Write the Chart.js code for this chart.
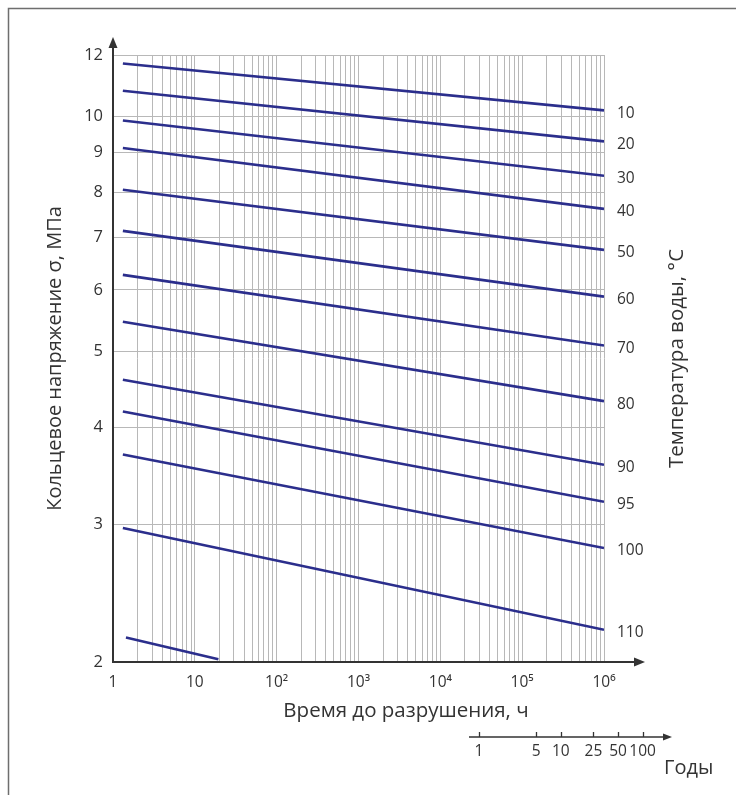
<!DOCTYPE html>
<html lang="ru">
<head>
<meta charset="utf-8">
<title>Длительная прочность</title>
<script src="https://cdn.jsdelivr.net/npm/chart.js@4.4.1/dist/chart.umd.min.js"></script>
<style>
  html, body { margin: 0; padding: 0; background: #fff; }
  #wrap { width: 736px; height: 795px; }
</style>
</head>
<body>
<div id="wrap"><canvas id="chart" width="736" height="795"></canvas></div>
<script>
// Water temperature (°C) of every line, and its two end points
const temperatures = ['10', '20', '30', '40', '50', '60', '70', '80', '90', '95', '100', '110', ''];
const startHours   = [1.32, 1.32, 1.32, 1.32, 1.32, 1.32, 1.32, 1.32, 1.32, 1.32, 1.32, 1.32, 1.44];
const endHours     = [1e6, 1e6, 1e6, 1e6, 1e6, 1e6, 1e6, 1e6, 1e6, 1e6, 1e6, 1e6, 19.4];
const startStress  = [11.70, 10.80, 9.89, 9.12, 8.06, 7.14, 6.27, 5.46, 4.60, 4.19, 3.69, 2.97, 2.15];
const endStress    = [10.19, 9.30, 8.40, 7.62, 6.75, 5.88, 5.09, 4.32, 3.58, 3.21, 2.80, 2.20, 2.016];

// Axis ticks
const stressTicks = [2, 3, 4, 5, 6, 7, 8, 9, 10, 12];
const hourTicks = [
    1, 2, 3, 4, 5, 6, 7, 8, 9,
    10, 20, 30, 40, 50, 60, 70, 80, 90,
    100, 200, 300, 400, 500, 600, 700, 800, 900,
    1000, 2000, 3000, 4000, 5000, 6000, 7000, 8000, 9000,
    1e4, 2e4, 3e4, 4e4, 5e4, 6e4, 7e4, 8e4, 9e4,
    1e5, 2e5, 3e5, 4e5, 5e5, 6e5, 7e5, 8e5, 9e5,
    1e6
];
const hourLabels = { 1: '1', 10: '10', 100: '10²', 1000: '10³', 10000: '10⁴', 100000: '10⁵', 1000000: '10⁶' };
const yearTicks = [1, 5, 10, 25, 50, 100];

const LINE_COLOR = '#2b2e8c';
const AXIS_COLOR = '#333333';
const TEXT_COLOR = '#333333';
const FONT = "'Open Sans', 'Noto Sans', sans-serif";

function arrow(ctx, x, y, dir) {
    ctx.beginPath();
    if (dir === 'up') {
        ctx.moveTo(x, y);
        ctx.lineTo(x - 4.5, y + 11);
        ctx.lineTo(x + 4.5, y + 11);
    } else {
        ctx.moveTo(x, y);
        ctx.lineTo(x - 11, y - 4.5);
        ctx.lineTo(x - 11, y + 4.5);
    }
    ctx.closePath();
    ctx.fill();
}

const framePlugin = {
    id: 'frame',
    beforeDraw(chart) {
        const ctx = chart.ctx;
        ctx.save();
        ctx.fillStyle = '#fff';
        ctx.fillRect(0, 0, chart.width, chart.height);
        ctx.strokeStyle = '#6e6e6e';
        ctx.lineWidth = 1.5;
        ctx.beginPath();
        ctx.moveTo(8.5, chart.height + 5);
        ctx.lineTo(8.5, 8.5);
        ctx.lineTo(chart.width + 5, 8.5);
        ctx.stroke();
        ctx.restore();
    }
};

const overlayPlugin = {
    id: 'overlay',
    afterDraw(chart) {
        const ctx = chart.ctx;
        const area = chart.chartArea;
        const y = chart.scales.y;
        const yrs = chart.scales.xYears;
        ctx.save();

        // axes with arrows
        ctx.strokeStyle = AXIS_COLOR;
        ctx.fillStyle = AXIS_COLOR;
        ctx.lineWidth = 2;
        ctx.beginPath();
        ctx.moveTo(area.left, area.bottom);
        ctx.lineTo(area.left, 46);
        ctx.moveTo(area.left - 1, area.bottom);
        ctx.lineTo(636, area.bottom);
        ctx.stroke();
        arrow(ctx, area.left, 37, 'up');
        arrow(ctx, 645, area.bottom, 'right');

        // temperature labels at the line ends
        ctx.fillStyle = TEXT_COLOR;
        ctx.font = '15.5px ' + FONT;
        ctx.textAlign = 'left';
        ctx.textBaseline = 'middle';
        temperatures.forEach((t, i) => {
            if (!t) return;
            ctx.fillText(t, 617, y.getPixelForValue(endStress[i]) + 3);
        });

        // axis titles
        ctx.font = '20.5px ' + FONT;
        ctx.textAlign = 'center';
        ctx.fillText('Время до разрушения, ч', 406, 711);
        ctx.save();
        ctx.translate(677, (area.top + area.bottom) / 2);
        ctx.rotate(-Math.PI / 2);
        ctx.fillText('Температура воды, °C', 0, 0);
        ctx.restore();

        // years axis
        const yy = 737;
        ctx.strokeStyle = AXIS_COLOR;
        ctx.lineWidth = 1.3;
        ctx.beginPath();
        ctx.moveTo(469, yy);
        ctx.lineTo(664, yy);
        yearTicks.forEach(v => {
            const px = Math.round(yrs.getPixelForValue(v)) + 0.5;
            ctx.moveTo(px, yy);
            ctx.lineTo(px, yy - 5);
        });
        ctx.stroke();
        ctx.fillStyle = AXIS_COLOR;
        ctx.beginPath();
        ctx.moveTo(672, yy);
        ctx.lineTo(663, yy - 3.5);
        ctx.lineTo(663, yy + 3.5);
        ctx.closePath();
        ctx.fill();

        ctx.fillStyle = TEXT_COLOR;
        ctx.font = '15.5px ' + FONT;
        ctx.textAlign = 'center';
        yearTicks.forEach(v => {
            ctx.fillText(String(v), yrs.getPixelForValue(v), 752);
        });
        ctx.font = '20px ' + FONT;
        ctx.textAlign = 'left';
        ctx.fillText('Годы', 664, 768);

        ctx.restore();
    }
};

const ctx = document.getElementById('chart').getContext('2d');
new Chart(ctx, {
    type: 'line',
    data: {
        datasets: temperatures.map((t, i) => ({
            label: t,
            data: [
                { x: startHours[i], y: startStress[i] },
                { x: endHours[i], y: endStress[i] }
            ],
            borderColor: LINE_COLOR,
            borderWidth: 2.6,
            pointRadius: 0,
            fill: false,
            tension: 0
        }))
    },
    options: {
        responsive: false,
        animation: false,
        layout: { padding: { left: 0, top: 55, right: 132, bottom: 0 } },
        plugins: {
            legend: { display: false },
            tooltip: { enabled: false }
        },
        scales: {
            x: {
                type: 'logarithmic',
                position: 'bottom',
                min: 1,
                max: 1e6,
                afterBuildTicks: s => { s.ticks = hourTicks.map(v => ({ value: v })); },
                afterFit: s => { s.height = 133; },
                grid: { color: '#b8b8b8', lineWidth: 1, drawTicks: false },
                border: { display: false },
                ticks: {
                    autoSkip: false,
                    maxRotation: 0,
                    padding: 11,
                    color: TEXT_COLOR,
                    font: { family: FONT, size: 15.5 },
                    callback: v => hourLabels[v] || ''
                }
            },
            xYears: {
                type: 'logarithmic',
                position: 'bottom',
                display: false,
                min: 3.37e-5,
                max: 33.7
            },
            y: {
                type: 'logarithmic',
                min: 2,
                max: 12,
                afterBuildTicks: s => { s.ticks = stressTicks.map(v => ({ value: v })); },
                afterFit: s => { s.width = 113; },
                grid: { color: '#b8b8b8', lineWidth: 1, drawTicks: false },
                border: { display: false },
                ticks: {
                    autoSkip: false,
                    padding: 10,
                    color: TEXT_COLOR,
                    font: { family: FONT, size: 16.5 },
                    callback: v => String(v)
                },
                title: {
                    display: true,
                    text: 'Кольцевое напряжение σ, МПа',
                    color: TEXT_COLOR,
                    font: { family: FONT, size: 20 },
                    padding: { top: 43, bottom: 0 }
                }
            }
        }
    },
    plugins: [framePlugin, overlayPlugin]
});
</script>
</body>
</html>
